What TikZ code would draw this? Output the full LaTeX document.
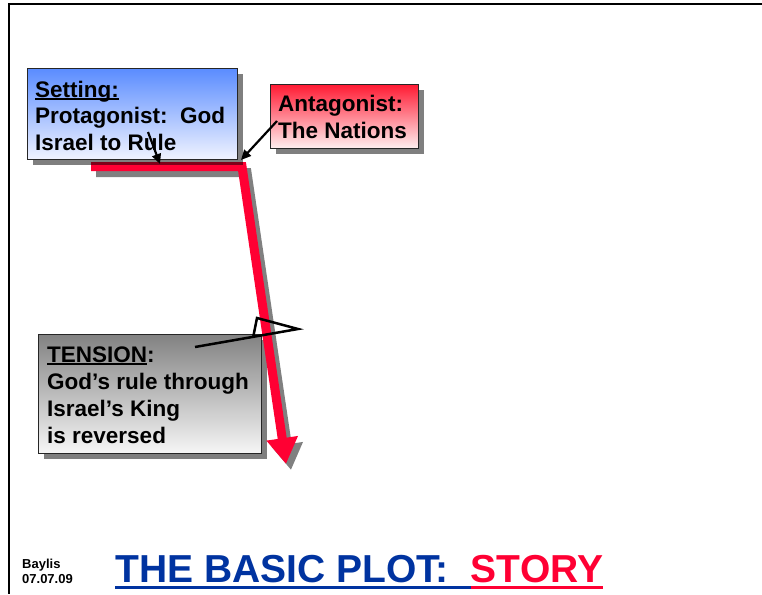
\documentclass[tikz,border=0pt]{standalone}
\usepackage{fontspec}
\setmainfont{Liberation Sans}
\usetikzlibrary{arrows.meta,shadows}
\definecolor{plotred}{HTML}{FF0033}
\definecolor{plotblue}{HTML}{0033A0}
\definecolor{settop}{HTML}{5A8CFF}
\definecolor{setbot}{HTML}{F0F3FF}
\definecolor{antop}{HTML}{FF1A33}
\definecolor{anbot}{HTML}{FFF0F0}
\definecolor{tentop}{HTML}{828282}
\definecolor{tenbot}{HTML}{F6F6F6}
\definecolor{shadowgray}{HTML}{808080}
\newcommand\myul[1]{\setbox0\hbox{#1}\rlap{\rule[-3pt]{\wd0}{1.8pt}}\box0}
\tikzset{
  panel/.style={draw=black!85, line width=0.9pt, anchor=north west, inner sep=0pt,
    drop shadow={shadow xshift=6pt, shadow yshift=-6pt, fill=black, opacity=0.5}},
  boxtext/.style={anchor=base west, inner sep=0pt, align=left,
    font=\fontsize{22.5}{26.5}\selectfont\bfseries},
  pointer/.style={draw=black, line width=2.2pt, -{Triangle[length=10pt,width=9pt]}},
  plotline/.style={line width=9pt, -{Triangle[length=26pt,width=30pt]}},
}
\begin{document}
\begin{tikzpicture}[x=1pt,y=-1pt]
\useasboundingbox (0,0) rectangle (762,594);
% frame
\draw[line width=2pt] (762,4) -- (9,4) -- (9,594);

% tension box (text anchored at the baseline of its last line)
\node[panel, top color=tentop, bottom color=tenbot, minimum width=223pt, minimum height=119pt] (tension) at (38,334) {};
\node[boxtext, font=\fontsize{22.5}{27}\selectfont\bfseries] (tensiontxt) at (47,443) {\myul{TENSION}:\\God’s rule through\\Israel’s King\\is reversed};

% plot line
\coordinate (rstart) at (91,166.5);
\coordinate (rbend) at (242,166.5);
\coordinate (rtip) at (286,464);
\draw[plotline, shadowgray, transform canvas={xshift=5pt,yshift=-6pt}] (rstart) -- (rbend) -- (rtip);
\draw[plotline, plotred] (rstart) -- (rbend) -- (rtip);

% setting box
\node[panel, top color=settop, bottom color=setbot, minimum width=210pt, minimum height=91pt] (setting) at (27,68) {};
\node[boxtext] (settingtxt) at (35,150) {\myul{Setting:}\\Protagonist:\ \ God\\Israel to Rule};

% antagonist box
\node[panel, top color=antop, bottom color=anbot, minimum width=148pt, minimum height=64pt] (antag) at (270,84) {};
\node[boxtext] (antagtxt) at (278,138) {Antagonist:\\The Nations};

% pointers
\coordinate (p1s) at (148,132);
\coordinate (p1e) at (160,164);
\draw[pointer] (p1s) -- (p1e);
\coordinate (p2s) at (277,121);
\coordinate (p2e) at (241,160);
\draw[pointer] (p2s) -- (p2e);

% tension marker
\coordinate (t1) at (195,347);
\coordinate (t2) at (298,329);
\coordinate (t3) at (257,318);
\coordinate (t4) at (253,338);
\draw[line width=2.5pt, line join=miter] (t1) -- (t2) -- (t3) -- (t4);

% footer
\node[anchor=base west, inner sep=0pt, align=left, font=\fontsize{13}{15}\selectfont\bfseries] (baylis) at (22,583) {Baylis\\07.07.09};
\node[anchor=base west, inner sep=0pt, font=\fontsize{39}{40}\selectfont\bfseries, text=plotblue] (title1) at (115,582) {THE BASIC PLOT:};
\node[anchor=base west, inner sep=0pt, font=\fontsize{39}{40}\selectfont\bfseries, text=plotred] (title2) at ([xshift=21.7pt]title1.base east) {STORY};
\draw[plotblue, line width=3pt] ([yshift=-5pt]title1.base west) -- ([yshift=-5pt]title2.base west);
\draw[plotred, line width=3pt] ([yshift=-5pt]title2.base west) -- ([yshift=-5pt]title2.base east);
\end{tikzpicture}
\end{document}
